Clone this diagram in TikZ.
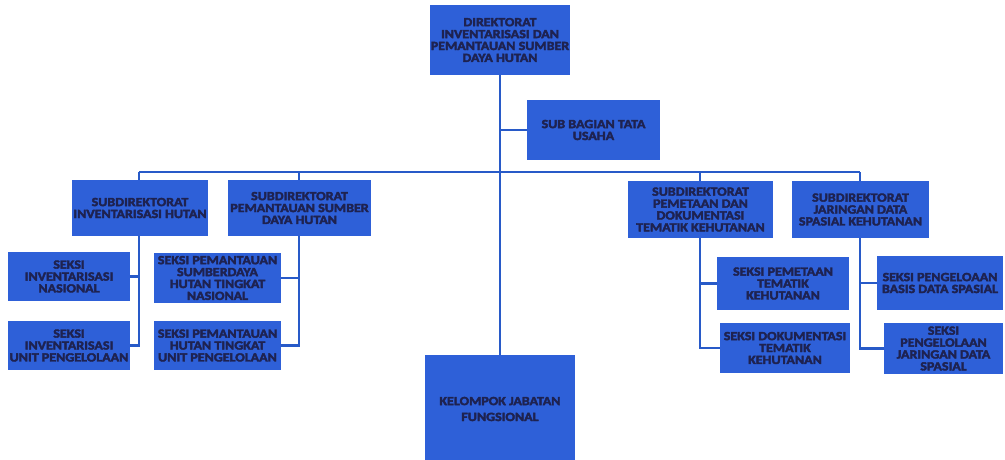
\documentclass[tikz,border=0pt]{standalone}
\usepackage{fontspec}
\setmainfont{Carlito}[FakeStretch=1.12,FakeBold=3]
\usepackage{tikz}
\definecolor{unitblue}{RGB}{46,96,216}
\definecolor{linkblue}{RGB}{40,90,200}
\definecolor{unittext}{RGB}{30,34,80}
\tikzset{
  font={\fontsize{12.5pt}{11.9pt}\selectfont\bfseries}}

\begin{document}
\begin{tikzpicture}[x=1pt,y=-1pt]
\tikzstyle{unit}=[draw=none,fill=unitblue,text=unittext,align=center,inner sep=0pt]
\tikzstyle{link}=[linkblue,line width=2.2pt]
\useasboundingbox (0,0) rectangle (1005,459);
\node [unit,minimum width=140,minimum height=70] (dir) at (500,40) {DIREKTORAT\\INVENTARISASI DAN\\PEMANTAUAN SUMBER\\DAYA HUTAN};
\node [unit,minimum width=133,minimum height=60] (tu) at (593.5,130) {SUB BAGIAN TATA\\USAHA};
\node [unit,minimum width=136,minimum height=56] (sdinv) at (140,208) {SUBDIREKTORAT\\INVENTARISASI HUTAN};
\node [unit,minimum width=143,minimum height=56] (sdpan) at (299.5,208) {SUBDIREKTORAT\\PEMANTAUAN SUMBER\\DAYA HUTAN};
\node [unit,minimum width=145,minimum height=57] (sdpem) at (700.5,209.5) {SUBDIREKTORAT\\PEMETAAN DAN\\DOKUMENTASI\\TEMATIK KEHUTANAN};
\node [unit,minimum width=137,minimum height=57] (sdjar) at (860.5,209.5) {SUBDIREKTORAT\\JARINGAN DATA\\SPASIAL KEHUTANAN};
\node [unit,minimum width=122,minimum height=49] (invnas) at (69,276.5) {SEKSI\\INVENTARISASI\\NASIONAL};
\node [unit,minimum width=122,minimum height=49] (invunit) at (69,345.5) {SEKSI\\INVENTARISASI\\UNIT PENGELOLAAN};
\node [unit,minimum width=127,minimum height=50] (pannas) at (217.5,278) {SEKSI PEMANTAUAN\\SUMBERDAYA\\HUTAN TINGKAT\\NASIONAL};
\node [unit,minimum width=127,minimum height=49] (panunit) at (217.5,345.5) {SEKSI PEMANTAUAN\\HUTAN TINGKAT\\UNIT PENGELOLAAN};
\node [unit,minimum width=132,minimum height=53] (pemtem) at (783,283.5) {SEKSI PEMETAAN\\TEMATIK\\KEHUTANAN};
\node [unit,minimum width=130,minimum height=50] (doktem) at (785,348) {SEKSI DOKUMENTASI\\TEMATIK\\KEHUTANAN};
\node [unit,minimum width=126,minimum height=54] (basis) at (940,283) {SEKSI PENGELOAAN\\BASIS DATA SPASIAL};
\node [unit,minimum width=119,minimum height=51] (jardat) at (943.5,348.5) {SEKSI\\PENGELOLAAN\\JARINGAN DATA\\SPASIAL};
\node [unit,minimum width=150,minimum height=108] (jabfung) at (500,409) {KELOMPOK JABATAN\\[4pt]FUNGSIONAL};
\coordinate (busl) at (139,172);
\coordinate (busr) at (860,172);
\draw [link] (dir.south) -- (jabfung.north);
\draw [link] (499,130) -- (tu.west);
\draw [link] (busl) -- (busr);
\draw [link] (busl) -- (sdinv.north -| busl);
\draw [link] (299,172) -- (sdpan.north -| 299,0);
\draw [link] (700,172) -- (sdpem.north -| 700,0);
\draw [link] (busr) -- (sdjar.north -| busr);
\draw [link] (sdinv.south -| busl) |- (invunit.east);
\draw [link] (139,276.5) -- (invnas.east);
\draw [link] (sdpan.south -| 299,0) |- (panunit.east);
\draw [link] (299,278) -- (pannas.east);
\draw [link] (sdpem.south -| 700,0) |- (doktem.west);
\draw [link] (700,283.5) -- (pemtem.west);
\draw [link] (sdjar.south -| busr) |- (jardat.west);
\draw [link] (860,283) -- (basis.west);
\end{tikzpicture}
\end{document}
